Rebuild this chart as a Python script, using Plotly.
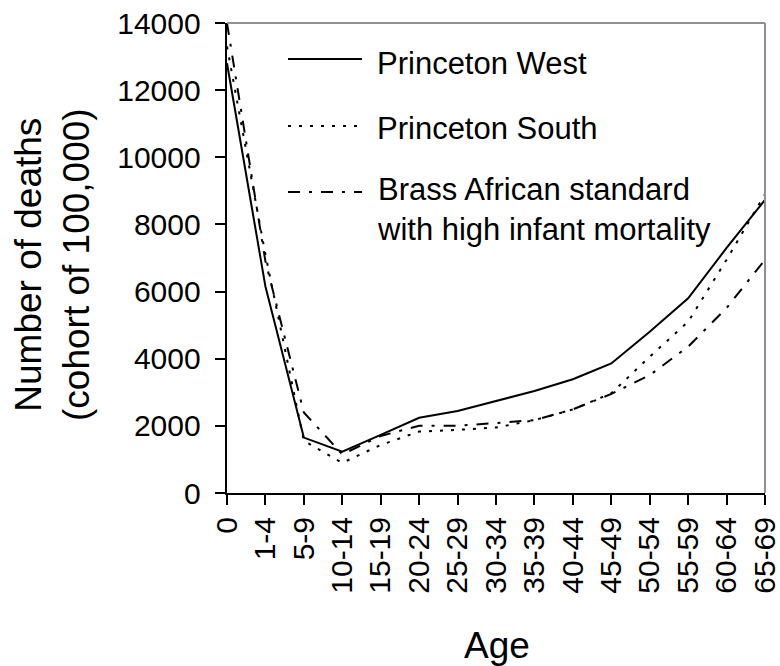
import plotly.graph_objects as go

ages = ["0", "1-4", "5-9", "10-14", "15-19", "20-24", "25-29", "30-34",
        "35-39", "40-44", "45-49", "50-54", "55-59", "60-64", "65-69"]
west = [12800, 6150, 1650, 1230, 1730, 2240, 2440, 2750, 3040, 3390, 3860, 4800, 5800, 7300, 8730]
south = [13300, 7100, 1550, 900, 1430, 1830, 1880, 1950, 2170, 2490, 2970, 4060, 5100, 6950, 8900]
brass = [14000, 6900, 2400, 1150, 1700, 2000, 2000, 2080, 2170, 2490, 2950, 3510, 4360, 5510, 6950]
series_names = ["Princeton West", "Princeton South",
                "Brass African standard<br>with high infant mortality"]
yticks = [0, 2000, 4000, 6000, 8000, 10000, 12000, 14000]
ytick_text = ["0", "2000", "4000", "6000", "8000", "10000", "12000", "14000"]

FONT = "Arial, Liberation Sans, sans-serif"
dashes = ["solid", "3px,8px", "12px,9px,3px,9px"]

fig = go.Figure()
for vals, name, dash in zip([west, south, brass], series_names, dashes):
    fig.add_trace(go.Scatter(x=ages, y=vals, mode="lines", name=name,
                             line=dict(color="black", width=2, dash=dash),
                             showlegend=False))

L, R, T, B = 227, 15, 23, 173
W, H = 780, 666
pw, ph = W - L - R, H - T - B

def px(xp):
    return (xp - L) / pw

def py(yp):
    return (H - B - yp) / ph

# manual legend
legend_rows = [(59, 63), (126, 128), (192, 210)]
shapes = []
annotations = []
for (ly, ty), name, dash in zip(legend_rows, series_names, dashes):
    shapes.append(dict(type="line", xref="paper", yref="paper",
                       x0=px(288), x1=px(362), y0=py(ly), y1=py(ly),
                       line=dict(color="black", width=2, dash=dash)))
    annotations.append(dict(xref="paper", yref="paper", x=px(375), y=py(ty),
                            xanchor="left", yanchor="middle", text=name, showarrow=False,
                            align="left", font=dict(family=FONT, size=31, color="black")))

# gray top/right frame
shapes.append(dict(type="line", xref="paper", yref="paper", x0=0, x1=1, y0=1, y1=1,
                   line=dict(color="#909090", width=2)))
shapes.append(dict(type="line", xref="paper", yref="paper", x0=1, x1=1, y0=0, y1=1,
                   line=dict(color="#909090", width=2)))

# axis titles
annotations.append(dict(xref="paper", yref="paper", x=px(52), y=py(265),
                        xanchor="center", yanchor="middle", textangle=-90,
                        text="Number of deaths<br>(cohort of 100,000)", showarrow=False,
                        font=dict(family=FONT, size=37, color="black")))
annotations.append(dict(xref="paper", yref="paper", x=px(497), y=py(645),
                        xanchor="center", yanchor="middle",
                        text="Age", showarrow=False,
                        font=dict(family=FONT, size=37, color="black")))

fig.update_layout(
    width=W, height=H,
    margin=dict(l=L, r=R, t=T, b=B, pad=0, autoexpand=False),
    plot_bgcolor="white", paper_bgcolor="white",
    font=dict(family=FONT, size=30, color="black"),
    shapes=shapes, annotations=annotations,
    showlegend=False,
)
fig.update_xaxes(type="category", range=[0, len(ages) - 1], showgrid=False, zeroline=False,
                 automargin=False,
                 showline=True, linecolor="black", linewidth=2,
                 ticks="outside", ticklen=10, tickwidth=2, tickcolor="black",
                 tickangle=-90, tickfont=dict(family=FONT, size=30, color="black"))
fig.update_yaxes(range=[0, 14000], tickvals=yticks,
                 ticktext=[t + "\u00a0" for t in ytick_text],
                 showgrid=False, zeroline=False, automargin=False,
                 showline=True, linecolor="black", linewidth=2,
                 ticks="outside", ticklen=10, tickwidth=2, tickcolor="black",
                 tickfont=dict(family=FONT, size=30, color="black"))

fig.write_html("out.html")
